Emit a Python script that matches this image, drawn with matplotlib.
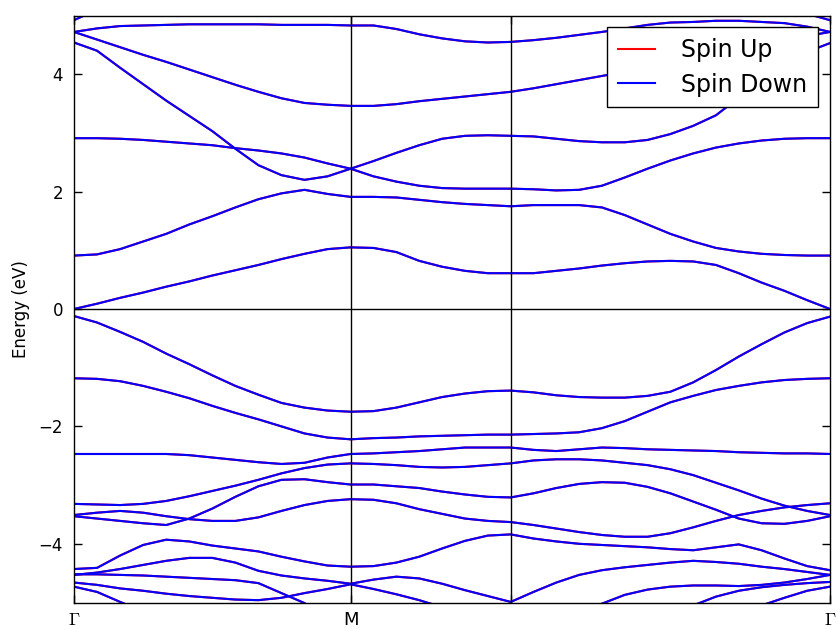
import numpy as np
import matplotlib
matplotlib.use("Agg")
from matplotlib import pyplot as plt

# high-symmetry points along the path (path length units)
k_ticks = [0.0, 0.577, 0.911, 1.577]
k_labels = [r"$\Gamma$", "M", "", r"$\Gamma$"]
seg_steps = [12, 7, 14]

nan = np.nan

# band energies (eV) read at the sample points of Gamma-M (13), M-K (7), K-Gamma (14)
band_c1 = [0.00, 0.09, 0.19, 0.28, 0.38, 0.47, 0.57, 0.66, 0.75, 0.85, 0.94, 1.02, 1.05,
           1.04, 0.97, 0.82, 0.72, 0.65, 0.61, 0.61,
           0.61, 0.65, 0.69, 0.74, 0.78, 0.81, 0.82, 0.81, 0.75, 0.61, 0.45, 0.31, 0.15, 0.00]
band_c2 = [0.91, 0.93, 1.02, 1.15, 1.28, 1.44, 1.58, 1.73, 1.87, 1.97, 2.03, 1.96, 1.91,
           1.91, 1.90, 1.86, 1.82, 1.79, 1.77, 1.75,
           1.77, 1.77, 1.77, 1.73, 1.60, 1.44, 1.28, 1.15, 1.04, 0.98, 0.94, 0.92, 0.91, 0.91]
band_c3 = [2.91, 2.91, 2.90, 2.88, 2.85, 2.82, 2.79, 2.74, 2.70, 2.65, 2.58, 2.48, 2.39,
           2.26, 2.17, 2.10, 2.06, 2.05, 2.05, 2.05,
           2.04, 2.02, 2.03, 2.10, 2.24, 2.39, 2.53, 2.65, 2.75, 2.82, 2.87, 2.90, 2.91, 2.91]
band_c4 = [4.54, 4.40, 4.11, 3.83, 3.55, 3.29, 3.03, 2.73, 2.45, 2.28, 2.20, 2.26, 2.39,
           2.52, 2.66, 2.79, 2.90, 2.95, 2.96, 2.95,
           2.94, 2.90, 2.86, 2.84, 2.84, 2.88, 2.98, 3.12, 3.30, 3.60, 3.88, 4.16, 4.38, 4.53]
band_c5 = [4.72, 4.59, 4.46, 4.33, 4.21, 4.08, 3.95, 3.82, 3.70, 3.59, 3.51, 3.48, 3.46,
           3.46, 3.49, 3.54, 3.58, 3.62, 3.66, 3.70,
           3.76, 3.83, 3.90, 3.97, 4.04, 4.12, 4.20, 4.27, 4.34, 4.42, 4.50, 4.57, 4.65, 4.72]
band_c6 = [4.72, 4.78, 4.82, 4.83, 4.84, 4.85, 4.85, 4.85, 4.85, 4.84, 4.84, 4.84, 4.83,
           4.83, 4.77, 4.68, 4.61, 4.56, 4.54, 4.55,
           4.58, 4.62, 4.67, 4.72, 4.78, 4.84, 4.88, 4.89, 4.91, 4.91, 4.89, 4.87, 4.81, 4.72]
band_c7 = [4.92, 5.10, nan, nan, nan, nan, nan, nan, nan, nan, nan, nan, nan,
           nan, nan, nan, nan, nan, nan, nan,
           nan, nan, nan, nan, nan, nan, nan, nan, nan, nan, nan, 5.20, 5.03, 4.92]

band_v1 = [-0.12, -0.23, -0.39, -0.56, -0.76, -0.94, -1.13, -1.31, -1.46, -1.60, -1.68, -1.73, -1.75,
           -1.74, -1.68, -1.59, -1.50, -1.44, -1.40, -1.39,
           -1.42, -1.47, -1.50, -1.51, -1.51, -1.48, -1.41, -1.25, -1.04, -0.81, -0.60, -0.40, -0.24, -0.13]
band_v2 = [-1.18, -1.19, -1.23, -1.31, -1.41, -1.52, -1.65, -1.77, -1.88, -2.00, -2.12, -2.19, -2.22,
           -2.20, -2.19, -2.17, -2.16, -2.15, -2.14, -2.14,
           -2.13, -2.12, -2.10, -2.03, -1.91, -1.75, -1.59, -1.48, -1.38, -1.31, -1.25, -1.21, -1.19, -1.18]
band_v3 = [-2.47, -2.47, -2.47, -2.47, -2.47, -2.49, -2.53, -2.57, -2.61, -2.64, -2.62, -2.53, -2.47,
           -2.46, -2.44, -2.42, -2.39, -2.36, -2.36, -2.36,
           -2.40, -2.42, -2.39, -2.36, -2.37, -2.39, -2.40, -2.41, -2.42, -2.44, -2.45, -2.46, -2.46, -2.47]
band_v4 = [-3.32, -3.33, -3.34, -3.32, -3.27, -3.19, -3.10, -3.01, -2.91, -2.80, -2.71, -2.65, -2.63,
           -2.64, -2.66, -2.69, -2.70, -2.69, -2.66, -2.63,
           -2.58, -2.56, -2.56, -2.58, -2.62, -2.66, -2.73, -2.83, -2.96, -3.09, -3.23, -3.35, -3.44, -3.51]
band_v5 = [-3.51, -3.47, -3.44, -3.47, -3.53, -3.58, -3.61, -3.61, -3.55, -3.44, -3.34, -3.27, -3.24,
           -3.25, -3.31, -3.41, -3.49, -3.57, -3.61, -3.63,
           -3.68, -3.74, -3.80, -3.85, -3.88, -3.88, -3.82, -3.72, -3.61, -3.51, -3.44, -3.38, -3.34, -3.31]
band_v6 = [-3.53, -3.57, -3.61, -3.65, -3.68, -3.57, -3.40, -3.20, -3.02, -2.91, -2.90, -2.95, -2.99,
           -2.99, -3.02, -3.05, -3.11, -3.16, -3.20, -3.21,
           -3.14, -3.05, -2.98, -2.95, -2.96, -3.03, -3.14, -3.28, -3.42, -3.57, -3.65, -3.66, -3.61, -3.53]
band_v7 = [-4.43, -4.41, -4.20, -4.02, -3.93, -3.96, -4.03, -4.08, -4.13, -4.22, -4.30, -4.37, -4.39,
           -4.38, -4.32, -4.22, -4.08, -3.95, -3.86, -3.84,
           -3.91, -3.96, -4.00, -4.02, -4.04, -4.06, -4.09, -4.11, -4.06, -4.01, -4.11, -4.25, -4.38, -4.45]
band_v8 = [-4.53, -4.49, -4.43, -4.36, -4.29, -4.24, -4.24, -4.32, -4.46, -4.54, -4.59, -4.63, -4.68,
           -4.61, -4.56, -4.59, -4.68, -4.79, -4.89, -4.99,
           -4.82, -4.66, -4.53, -4.45, -4.40, -4.36, -4.32, -4.29, -4.31, -4.34, -4.39, -4.43, -4.48, -4.53]
band_v9 = [-4.52, -4.52, -4.53, -4.54, -4.56, -4.58, -4.60, -4.62, -4.67, -4.84, -5.01, nan, nan,
           nan, nan, nan, nan, nan, nan, nan,
           nan, nan, nan, -5.02, -4.87, -4.78, -4.73, -4.71, -4.71, -4.72, -4.70, -4.66, -4.60, -4.53]
band_v10 = [-4.66, -4.70, -4.76, -4.80, -4.85, -4.89, -4.92, -4.95, -4.96, -4.92, -4.84, -4.77, -4.69,
            -4.77, -4.86, -4.96, -5.08, nan, nan, nan,
            nan, nan, nan, nan, nan, nan, nan, -5.05, -4.90, -4.80, -4.74, -4.70, -4.67, -4.65]
band_v11 = [-4.73, -4.82, -4.99, -5.15, nan, nan, nan, nan, nan, nan, nan, nan, nan,
            nan, nan, nan, nan, nan, nan, nan,
            nan, nan, nan, nan, nan, nan, nan, nan, nan, nan, -5.05, -4.92, -4.80, -4.73]

bands = [band_c1, band_c2, band_c3, band_c4, band_c5, band_c6, band_c7,
         band_v1, band_v2, band_v3, band_v4, band_v5, band_v6, band_v7,
         band_v8, band_v9, band_v10, band_v11]


def path_points(ticks, steps):
    k = [np.linspace(ticks[0], ticks[1], steps[0] + 1)]
    for i in range(1, len(steps)):
        k.append(np.linspace(ticks[i], ticks[i + 1], steps[i] + 1)[1:])
    return np.concatenate(k)


def main():
    plt.rcParams["mathtext.fontset"] = "cm"
    k = path_points(k_ticks, seg_steps)

    fig = plt.figure(figsize=(8.38, 6.29), dpi=100)
    ax = fig.add_axes([74 / 838, 1 - 602.5 / 629, 756 / 838, 587 / 629])

    for b in bands:
        up, = ax.plot(k, b, color="red", lw=1.5)
    for b in bands:
        down, = ax.plot(k, b, color="blue", lw=1.5)

    for kt in k_ticks[1:-1]:
        ax.axvline(kt, color="black", lw=1)
    ax.axhline(0, color="black", lw=1)

    ax.set_xlim(k_ticks[0], k_ticks[-1])
    ax.set_ylim(-5, 5)
    ax.set_xticks(k_ticks)
    ax.set_xticklabels(k_labels, fontsize=13)
    ax.set_yticks([-4, -2, 0, 2, 4])
    ax.tick_params(axis="y", labelsize=12, pad=8)
    ax.tick_params(axis="x", pad=6)
    ax.tick_params(direction="in", top=True, right=True, length=6, width=1)
    ax.set_ylabel("Energy (eV)", fontsize=12, labelpad=6)
    for s in ax.spines.values():
        s.set_linewidth(1)

    leg = ax.legend([up, down], ["Spin Up", "Spin Down"], loc="upper right",
                    fontsize=17, fancybox=False, framealpha=1, edgecolor="black",
                    handlelength=1.6, handletextpad=1.1, borderpad=0.45,
                    labelspacing=0.45, borderaxespad=0.5)
    leg.get_frame().set_linewidth(1)

    fig.savefig("out.png", dpi=100)


if __name__ == "__main__":
    main()
